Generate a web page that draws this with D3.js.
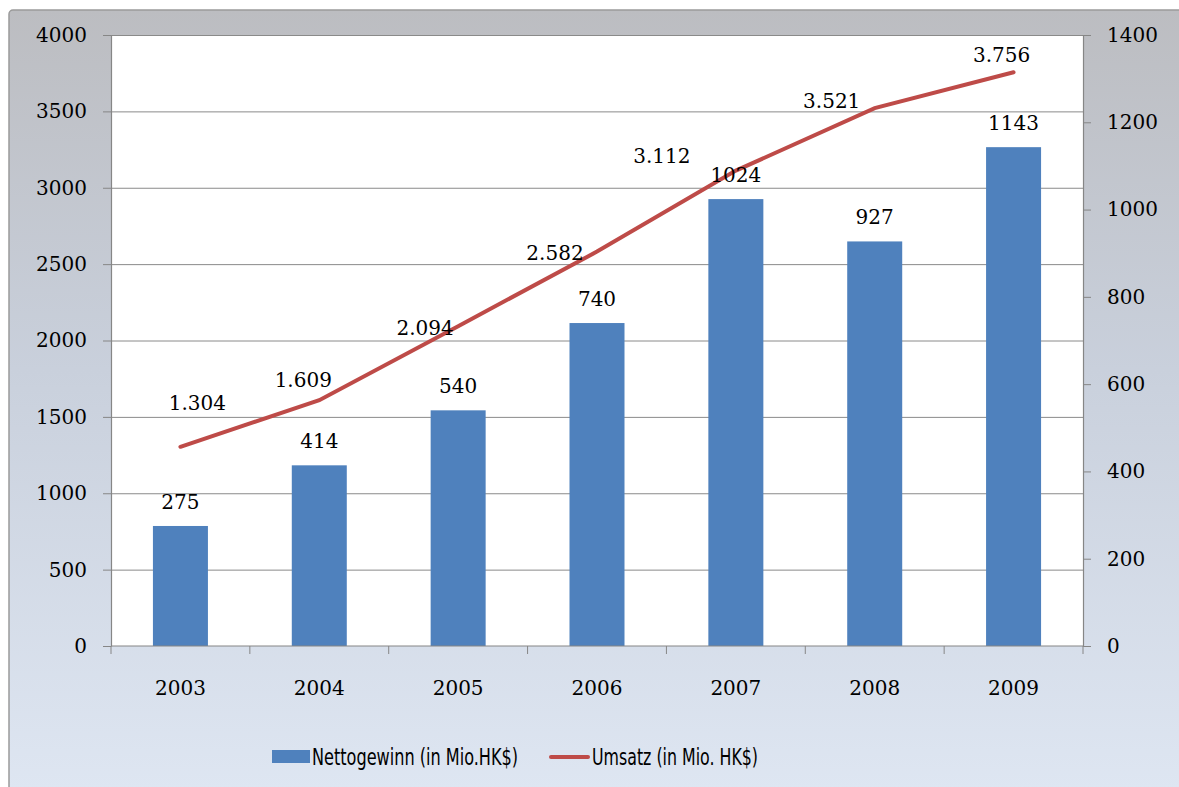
<!DOCTYPE html>
<html>
<head>
<meta charset="utf-8">
<script src="https://cdn.jsdelivr.net/npm/d3@7"></script>
<style>
  body { margin: 0; background: #fff; }
  svg { display: block; }
  .num { font-family: "DejaVu Serif", "Liberation Serif", serif; font-size: 20px; fill: #000; }
  .legend text { font-family: "DejaVu Sans Condensed", "Liberation Sans Narrow", sans-serif; font-stretch: condensed; font-size: 23px; fill: #000; }
</style>
</head>
<body>
<svg id="chart" width="1179" height="787"></svg>
<script>
// data
const years = ["2003", "2004", "2005", "2006", "2007", "2008", "2009"];
const nettogewinn = [275, 414, 540, 740, 1024, 927, 1143];   // bars, right axis
const umsatz = [1304, 1609, 2094, 2582, 3112, 3521, 3756];   // line, left axis
const umsatzLabels = ["1.304", "1.609", "2.094", "2.582", "3.112", "3.521", "3.756"];
const leftTicks = [0, 500, 1000, 1500, 2000, 2500, 3000, 3500, 4000];
const rightTicks = [0, 200, 400, 600, 800, 1000, 1200, 1400];

// label nudges for the line labels (as placed in the original)
const lineLabelShift = [[17, -37], [-16, -13], [-33, 9], [-42, 8], [-74, -8], [-43, 0], [-12, -10]];

const plot = { left: 111, right: 1083, top: 35, bottom: 646 };

const svg = d3.select("#chart");

// background frame with gradient
const defs = svg.append("defs");
const grad = defs.append("linearGradient")
  .attr("id", "bg").attr("x1", 0).attr("y1", 0).attr("x2", 0).attr("y2", 1);
grad.append("stop").attr("offset", "0%").attr("stop-color", "#bcbdc1");
grad.append("stop").attr("offset", "45%").attr("stop-color", "#c9d0dc");
grad.append("stop").attr("offset", "100%").attr("stop-color", "#dfe7f3");

svg.append("rect")
  .attr("x", 9).attr("y", 10)
  .attr("width", 1200).attr("height", 800)
  .attr("rx", 4)
  .attr("fill", "url(#bg)")
  .attr("stroke", "#9a9a9a")
  .attr("stroke-width", 1.5);

svg.append("rect")
  .attr("x", plot.left).attr("y", plot.top)
  .attr("width", plot.right - plot.left).attr("height", plot.bottom - plot.top)
  .attr("fill", "#fff");

// scales
var xOuter = d3.scaleBand().domain(years).range([plot.left, plot.right]);
var yLeft = d3.scaleLinear().domain([0, 4000]).range([plot.bottom, plot.top]);
var yRight = d3.scaleLinear().domain([0, 1400]).range([plot.bottom, plot.top]);
var cx = d => xOuter(d) + xOuter.bandwidth() / 2;

// gridlines
svg.append("g")
  .selectAll("line")
  .data(leftTicks.slice(1))
  .enter().append("line")
  .attr("x1", plot.left).attr("x2", plot.right)
  .attr("y1", d => yLeft(d) + 0.5).attr("y2", d => yLeft(d) + 0.5)
  .attr("stroke", "#8a8a8a").attr("stroke-width", 1);

// bars
svg.append("g")
  .selectAll("rect")
  .data(nettogewinn)
  .enter().append("rect")
  .attr("x", (d, i) => cx(years[i]) - 27.5)
  .attr("width", 55)
  .attr("y", d => yRight(d))
  .attr("height", d => plot.bottom - yRight(d))
  .attr("fill", "#4f81bd");

// axes
function styleAxis(g) {
  g.attr("font-family", null).attr("font-size", null);
  g.select(".domain").attr("stroke", "#868686").attr("stroke-width", 1.2);
  g.selectAll(".tick line").attr("stroke", "#868686");
  g.selectAll(".tick text").attr("class", "num").attr("fill", "#000");
}

svg.append("g")
  .attr("transform", "translate(" + plot.left + ",0)")
  .call(d3.axisLeft(yLeft).tickValues(leftTicks).tickFormat(d3.format("d"))
    .tickSize(8).tickPadding(16).tickSizeOuter(0))
  .call(styleAxis);

svg.append("g")
  .attr("transform", "translate(" + plot.right + ",0)")
  .call(d3.axisRight(yRight).tickValues(rightTicks).tickFormat(d3.format("d"))
    .tickSize(8).tickPadding(16).tickSizeOuter(0))
  .call(styleAxis);

// x axis with ticks at category boundaries
var xAxisG = svg.append("g")
  .attr("transform", "translate(0," + plot.bottom + ")");
xAxisG.append("line")
  .attr("x1", plot.left).attr("x2", plot.right)
  .attr("stroke", "#868686").attr("stroke-width", 1.2);
xAxisG.selectAll(".bnd")
  .data(years.concat(["end"]))
  .enter().append("line")
  .attr("x1", (d, i) => plot.left + i * xOuter.step())
  .attr("x2", (d, i) => plot.left + i * xOuter.step())
  .attr("y1", 0).attr("y2", 8)
  .attr("stroke", "#868686");
xAxisG.selectAll("text")
  .data(years)
  .enter().append("text")
  .attr("class", "num")
  .attr("x", d => cx(d))
  .attr("y", 49)
  .attr("text-anchor", "middle")
  .text(d => d);

// line
var line = d3.line()
  .x((d, i) => cx(years[i]))
  .y(d => yLeft(d));

svg.append("path")
  .datum(umsatz)
  .attr("d", line)
  .attr("fill", "none")
  .attr("stroke", "#be4b48")
  .attr("stroke-width", 4)
  .attr("stroke-linecap", "round");

// bar labels
svg.append("g")
  .selectAll("text")
  .data(nettogewinn)
  .enter().append("text")
  .attr("class", "num")
  .attr("x", (d, i) => cx(years[i]))
  .attr("y", d => yRight(d) - 17)
  .attr("text-anchor", "middle")
  .text(d => d);

// line labels
svg.append("g")
  .selectAll("text")
  .data(umsatz)
  .enter().append("text")
  .attr("class", "num")
  .attr("x", (d, i) => cx(years[i]) + lineLabelShift[i][0])
  .attr("y", (d, i) => yLeft(d) + lineLabelShift[i][1])
  .attr("text-anchor", "middle")
  .text((d, i) => umsatzLabels[i]);

// legend
var legend = svg.append("g").attr("class", "legend");
legend.append("rect")
  .attr("x", 272).attr("y", 750).attr("width", 38).attr("height", 13)
  .attr("fill", "#4f81bd");
legend.append("text")
  .attr("x", 312).attr("y", 765)
  .attr("textLength", 206).attr("lengthAdjust", "spacingAndGlyphs")
  .text("Nettogewinn (in Mio.HK$)");
legend.append("line")
  .attr("x1", 551).attr("x2", 588).attr("y1", 757).attr("y2", 757)
  .attr("stroke", "#be4b48").attr("stroke-width", 4).attr("stroke-linecap", "round");
legend.append("text")
  .attr("x", 592).attr("y", 765)
  .attr("textLength", 166).attr("lengthAdjust", "spacingAndGlyphs")
  .text("Umsatz (in Mio. HK$)");
</script>
</body>
</html>
